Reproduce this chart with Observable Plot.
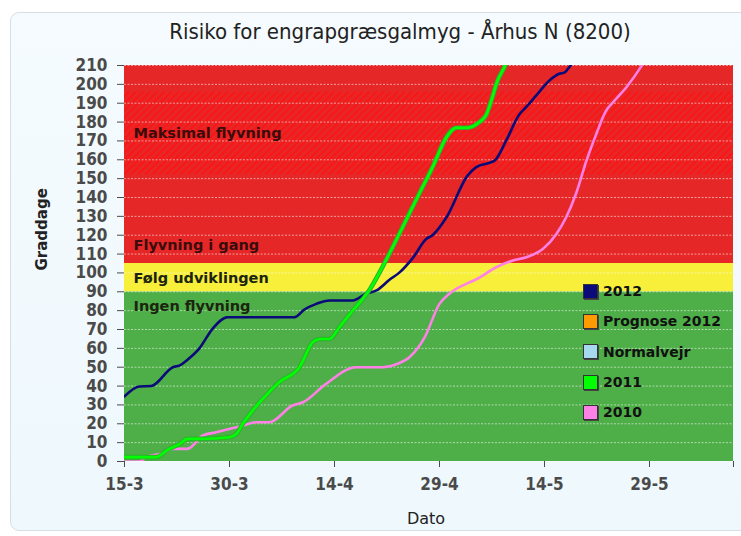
<!DOCTYPE html>
<html>
<head>
<meta charset="utf-8">
<script src="https://cdn.jsdelivr.net/npm/d3@7"></script>
<script src="https://cdn.jsdelivr.net/npm/@observablehq/plot@0.6"></script>
<style>
  html, body { margin: 0; padding: 0; background: #ffffff; }
  #wrap { position: relative; width: 741px; height: 536px; overflow: hidden; background: #ffffff; }
  #panel { position: absolute; left: 10px; top: 12px; width: 780px; height: 517px;
           border: 1px solid #d6dfe4; border-radius: 9px;
           background: linear-gradient(#f5fbfe, #eef8fd); }
  #title { position: absolute; left: 0; width: 800px; top: 19px; text-align: center;
           font: 22px "Liberation Sans Narrow", "DejaVu Sans Condensed", sans-serif; color: #222; }
  #chart { position: absolute; left: 0; top: 0; }
  #legend { position: absolute; left: 583px; top: 276px; font: bold 14px "DejaVu Sans", sans-serif; color: #111; }
  .row { display: flex; align-items: center; height: 30.3px; }
  .sw { width: 15px; height: 15px; border: 1px solid #333; box-shadow: 1px 1px 0 #444; margin-right: 5px; box-sizing: border-box; }
</style>
</head>
<body>
<div id="wrap">
  <div id="panel"></div>
  <div id="title">Risiko for engrapgræsgalmyg - Århus N (8200)</div>
  <div id="chart"></div>
  <div id="legend"></div>
</div>
<script>
// ---- Axis ticks ----
const yTicks = d3.range(0, 211, 10);
const xTicks = [0, 15, 30, 45, 60, 75, 87];          // days after 15 March
const xTickLabels = ["15-3", "30-3", "14-4", "29-4", "14-5", "29-5", ""];
const xDomain = [0, 87];
const yDomain = [0, 210];

// ---- Risk bands ----
const bandNames = ["Ingen flyvning", "Følg udviklingen", "Flyvning i gang", "Maksimal flyvning"];
const bandLow  = [0, 90, 105, 152];
const bandHigh = [90, 105, 210, 196];

// ---- Series (day after 15-3, degree days) ----
const days2012 = [0, 2.1, 3.8, 6.9, 7.9, 9, 10.7, 12.6, 14.7, 24.3, 25.7, 27.4, 29.3, 32.6, 34.5, 36, 37.9, 39.3, 41.2, 43.1, 44, 46, 49, 50.2, 52.9, 54.5, 56.4, 57.4, 58.8, 60.7, 62.1, 62.9, 63.6, 64.3];
const vals2012 = [34.5, 39.8, 40, 50, 51, 54, 60, 70.5, 76.5, 76.5, 80.6, 83.6, 85.4, 85.4, 89, 90.7, 96.5, 100.3, 108, 118, 120, 129.5, 151.6, 156, 159.6, 170, 184, 188, 194, 202, 205.6, 206.4, 209.4, 213];

const days2011 = [0, 1.7, 4.5, 6, 7.9, 9, 10.7, 15, 16, 16.9, 18.3, 20.2, 22.1, 25, 26.9, 27.9, 29.3, 30.7, 32.6, 34, 35, 36.4, 38.3, 40.2, 42.1, 44, 46, 47.4, 49, 50.7, 51.7, 52.4, 53.3, 54.3, 54.8];
const vals2011 = [2.3, 2.3, 2.3, 5.8, 9.4, 12, 12, 12.9, 14.7, 20, 27, 35, 42, 50, 63.3, 65, 65, 71.2, 80, 86, 91, 100, 113.6, 127.8, 142, 156, 172, 177, 177, 180, 184, 191.4, 202, 209.4, 214];

const days2010 = [0, 2.1, 3.1, 5.5, 6.9, 9, 11.2, 13.1, 14.5, 16.9, 18.8, 20.7, 24, 25.5, 28.8, 33.1, 36.9, 39, 40.7, 42.9, 45, 46.4, 49.3, 50.2, 53.1, 55.5, 57.4, 59.8, 61.7, 63.1, 64.5, 66, 67.4, 68.8, 69.8, 71.7, 73.8, 74.4];
const vals2010 = [0, 0, 2.3, 4.4, 6.7, 6.7, 13.8, 15.5, 16.8, 19, 20.8, 20.8, 29.7, 31.4, 41.2, 50, 50, 51.8, 55.3, 66, 83.6, 89, 95, 96.5, 103, 106.6, 108.3, 112.8, 120.7, 129.5, 142, 159.6, 173.7, 186, 190.5, 198.5, 209.4, 213];

// ---- Legend ----
const legendNames = ["2012", "Prognose 2012", "Normalvejr", "2011", "2010"];
const legendColors = ["#0a0a78", "#ff9a00", "#a6d8ee", "#00ff00", "#ff80e6"];

const toRows = (days, vals) => days.map((d, i) => ({day: d, value: vals[i]}));
const bands = bandNames.map((n, i) => ({name: n, lo: bandLow[i], hi: bandHigh[i]}));

const hatchDefs = () => {
  const defs = d3.create("svg:defs");
  const p = defs.append("pattern").attr("id", "hatch").attr("patternUnits", "userSpaceOnUse")
    .attr("width", 5).attr("height", 5).attr("patternTransform", "rotate(45)");
  p.append("rect").attr("width", 5).attr("height", 5).attr("fill", "#e62727");
  p.append("line").attr("x1", 1).attr("y1", 0).attr("x2", 1).attr("y2", 5)
    .attr("stroke", "#fa1616").attr("stroke-width", 2.2);
  return defs.node();
};

const labelStyle = {frameAnchor: "left", dx: 9, textAnchor: "start", text: "name",
  fontFamily: "DejaVu Sans, sans-serif", fontSize: 14.5, fontWeight: "bold"};

const plot = Plot.plot({
  width: 741,
  height: 536,
  marginLeft: 124,
  marginRight: 8,
  marginTop: 65,
  marginBottom: 75,
  style: {background: "transparent", fontFamily: "'DejaVu Sans Condensed', 'DejaVu Sans', sans-serif", fontSize: "17px", fontWeight: "bold"},
  x: {domain: xDomain},
  y: {domain: yDomain},
  marks: [
    hatchDefs,
    Plot.rect(bands.slice(0, 1), {y1: "lo", y2: "hi", fill: "#4eae48"}),
    Plot.rect(bands.slice(1, 2), {y1: "lo", y2: "hi", fill: "#f7ef3a"}),
    Plot.rect(bands.slice(2, 3), {y1: "lo", y2: "hi", fill: "#e62727"}),
    Plot.rect(bands.slice(3, 4), {y1: "lo", y2: "hi", fill: "url(#hatch)"}),
    Plot.gridY(yTicks, {stroke: "#ffffff", strokeOpacity: 0.55, strokeDasharray: "2,1.5", strokeWidth: 1}),
    Plot.axisY({ticks: yTicks, tickSize: 7, tickPadding: 10, label: null, color: "#4a4a4a"}),
    Plot.axisX({ticks: xTicks, tickSize: 6, tickPadding: 10, label: null, color: "#4a4a4a",
      tickFormat: d => xTickLabels[xTicks.indexOf(d)] ?? ""}),
    Plot.text(bands.slice(0, 1), {...labelStyle, y: "hi", dy: 15, fill: "#1c2410"}),
    Plot.text(bands.slice(1, 2), {...labelStyle, y: d => (d.lo + d.hi) / 2, dy: 1, fill: "#1c2410"}),
    Plot.text(bands.slice(2, 3), {...labelStyle, y: "lo", dy: -18, fill: "#3a0c0c"}),
    Plot.text(bands.slice(3, 4), {...labelStyle, y: d => (d.lo + d.hi) / 2, dy: 0, fill: "#3a0c0c"}),
    Plot.line(toRows(days2012, vals2012), {x: "day", y: "value", stroke: legendColors[0], strokeWidth: 2.6, curve: "monotone-x", clip: true}),
    Plot.line(toRows(days2010, vals2010), {x: "day", y: "value", stroke: legendColors[4], strokeWidth: 2.6, curve: "monotone-x", clip: true}),
    Plot.line(toRows(days2011, vals2011), {x: "day", y: "value", stroke: "#2fae2f", strokeWidth: 4.6, curve: "monotone-x", clip: true}),
    Plot.line(toRows(days2011, vals2011), {x: "day", y: "value", stroke: legendColors[3], strokeWidth: 2.6, curve: "monotone-x", clip: true}),
    Plot.text(["Graddage"], {frameAnchor: "left", rotate: -90, dx: -82, dy: 7, text: d => d,
      fill: "#222", fontFamily: "DejaVu Sans, sans-serif", fontSize: 15, fontWeight: "bold"}),
    Plot.text(["Dato"], {frameAnchor: "bottom", dy: 62, dx: -3, text: d => d,
      fill: "#222", fontFamily: "DejaVu Sans, sans-serif", fontSize: 16, fontWeight: "normal"})
  ]
});
document.getElementById("chart").appendChild(plot);

const legend = d3.select("#legend");
legendNames.forEach((n, i) => {
  const r = legend.append("div").attr("class", "row");
  r.append("div").attr("class", "sw").style("background", legendColors[i]);
  r.append("span").text(n);
});
</script>
</body>
</html>
